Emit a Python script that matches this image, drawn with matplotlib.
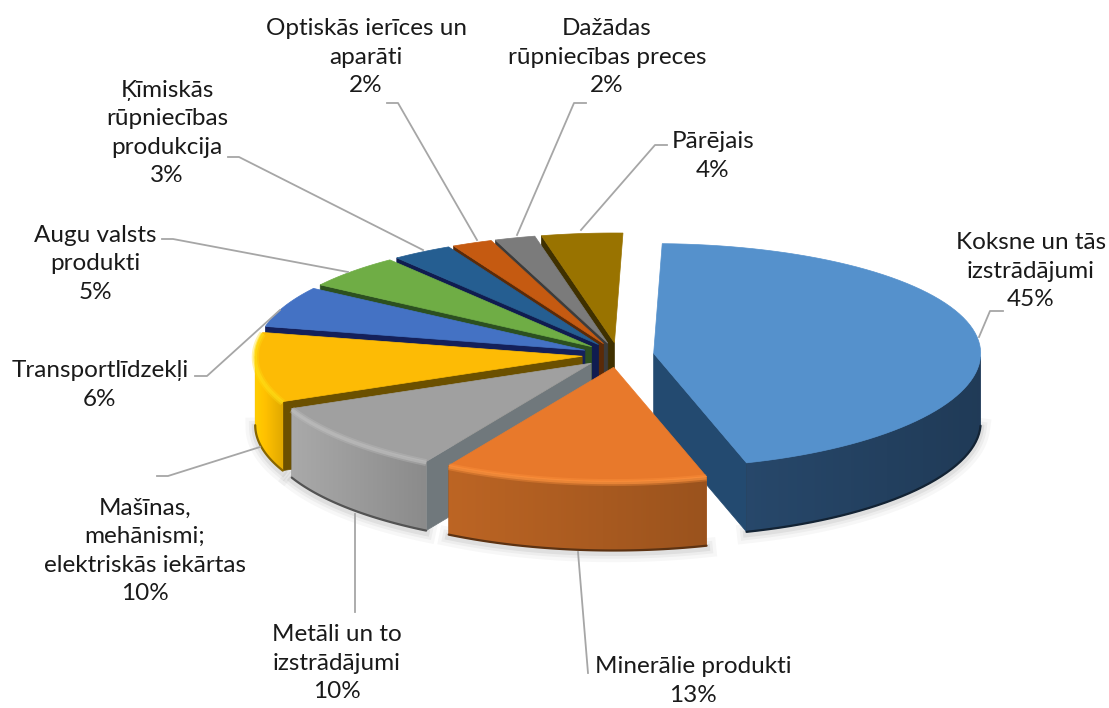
import numpy as np
import matplotlib
matplotlib.use("Agg")
import matplotlib.pyplot as plt
from matplotlib.patches import Polygon
from matplotlib.colors import to_rgb

plt.rcParams['font.family'] = ['Lato', 'DejaVu Sans']

# Data
labels = ["Koksne un tās\nizstrādājumi", "Minerālie produkti", "Metāli un to\nizstrādājumi",
          "Mašīnas,\nmehānismi;\nelektriskās iekārtas", "Transportlīdzekļi", "Augu valsts\nprodukti",
          "Ķīmiskās\nrūpniecības\nprodukcija", "Optiskās ierīces un\naparāti",
          "Dažādas\nrūpniecības preces", "Pārējais"]
values = [45, 13, 10, 10, 6, 5, 3, 2, 2, 4]

# Styling per slice
top_colors = ["#5591CC", "#E8792B", "#A0A0A0", "#FDBB05", "#4472C4", "#6FAD45",
              "#255E91", "#C55A11", "#7B7B7B", "#997300"]
wall_colors = ["#23405F", "#A85A20", "#979797", "#F4B800", "#2F528F", "#4E7A30",
               "#1A4166", "#843C0C", "#555555", "#664C00"]
face_colors = ["#234A70", "#8A4A1A", "#70787C", "#6B5000", "#14205A", "#2C5020",
               "#101C50", "#5A2A08", "#3C3C3C", "#3F3000"]
has_rim = [False, True, True, True, False, False, False, False, False, False]
label_pos = [(1031, 271), (693, 681), (337, 663), (145, 551), (100, 385), (95, 264),
             (167, 133), (366, 57), (607, 57), (713, 156)]
leaders = [[(979, 337), (990, 311), (1003, 311)],
           [(578, 552), (588, 673)],
           [(355, 514), (355, 612)],
           [(260, 447), (168, 476), (157, 476)],
           [(280, 310), (207, 376), (195, 376)],
           [(348, 272), (173, 239), (162, 239)],
           [(423, 250), (239, 157), (228, 157)],
           [(477, 240), (398, 103), (387, 103)],
           [(517, 235), (574, 103), (586, 103)],
           [(581, 230), (655, 145), (667, 145)]]

# Pie geometry in pixels
cx, cy = 618, 355
rx, ry = 327, 112
depth = 69
explode = 0.11
rotation = 1.5
persp = 0.02


def project(t, r=1.0):
    """Angle in degrees clockwise from the back of the pie -> offset in pixels."""
    a = np.radians(t)
    front = -np.cos(a) * r
    return rx * np.sin(a) * r, ry * front * (1 + persp * front)


fig = plt.figure(figsize=(11.09, 7.08), dpi=100)
ax = fig.add_axes([0, 0, 1, 1])

edges = rotation + np.cumsum([0] + values) * 3.6
mids = (edges[:-1] + edges[1:]) / 2

# slices go back to front
order = np.argsort(-np.cos(np.radians(mids)))
for z, i in enumerate(order):
    zo = 2 + z
    ox, oy = project(mids[i], explode)
    ax0, ay0 = cx + ox, cy + oy
    t = np.linspace(edges[i], edges[i + 1], 80)
    px, py = project(t)
    px, py = ax0 + px, ay0 + py
    front = np.cos(np.radians(t)) < 0

    # faint shadow under the front edge
    if front.any():
        for lw, alpha in zip([14, 9, 5], [0.03, 0.04, 0.06]):
            ax.plot(px[front], py[front] + depth + 2, color="black", lw=lw, alpha=alpha, zorder=1)

    # radial faces, only those turned towards the viewer
    for j, sign in ((0, -1), (-1, 1)):
        if sign * np.sin(np.radians(t[j])) < 0.05:
            continue
        quad = [(ax0, ay0), (px[j], py[j]), (px[j], py[j] + depth), (ax0, ay0 + depth)]
        ax.add_patch(Polygon(quad, closed=True, fc=face_colors[i], ec=face_colors[i], lw=0.5, zorder=zo))

    # outer wall, only the front half shows, shaded across with a clipped gradient
    if front.any():
        base = np.array(to_rgb(wall_colors[i]))
        fx, fy = px[front], py[front]
        outline = np.r_[np.c_[fx, fy], np.c_[fx[::-1], fy[::-1] + depth]]
        wall = Polygon(outline, closed=True, fc=base, ec=base, lw=0.5, zorder=zo)
        ax.add_patch(wall)
        k = np.linspace(0, 1, 64)
        if fx[0] > fx[-1]:
            k = k[::-1]  # clockwise runs right to left along the front
        shade = np.clip(base[None, :] * (0.92 + 0.2 * k[:, None]), 0, 1)[None, :, :]
        im = ax.imshow(shade, extent=(fx.min(), fx.max(), fy.max() + depth, fy.min()),
                       aspect="auto", zorder=zo, interpolation="bilinear")
        im.set_clip_path(wall)
        ax.plot(fx, fy + depth, color=base * 0.55, lw=1.6, zorder=zo, solid_capstyle="round")

    # top face
    ax.add_patch(Polygon(np.r_[[(ax0, ay0)], np.c_[px, py]], closed=True, fc=top_colors[i],
                         ec=top_colors[i], lw=0.5, zorder=zo))
    if has_rim[i]:
        rim = np.clip(np.array(to_rgb(top_colors[i])) * 1.1 + 0.06, 0, 1)
        ax.plot(px, py + 1, color=rim, lw=5, alpha=0.35, zorder=zo, solid_capstyle="butt")
        ax.plot(px, py + 1, color=rim, lw=2.5, alpha=0.6, zorder=zo, solid_capstyle="butt")

# leader lines and labels
for pts in leaders:
    xs, ys = zip(*pts)
    ax.plot(xs, ys, color="#A6A6A6", lw=1.3, zorder=30)

for name, val, (x, y) in zip(labels, values, label_pos):
    ax.text(x, y, f"{name}\n{val}%", ha="center", va="center", fontsize=17.5,
            color="#1A1A1A", linespacing=1.45, zorder=31)

ax.set_xlim(0, 1109)
ax.set_ylim(708, 0)
ax.axis("off")

fig.savefig("out.png", dpi=100)
